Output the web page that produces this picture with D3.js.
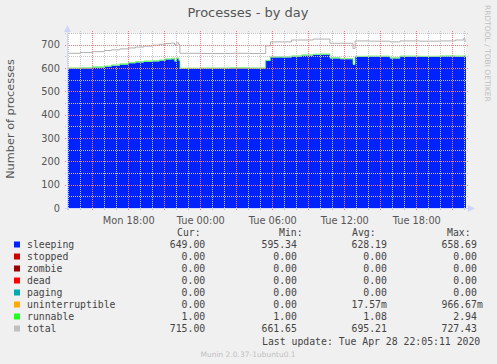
<!DOCTYPE html>
<html>
<head>
<meta charset="utf-8">
<script src="https://cdnjs.cloudflare.com/ajax/libs/d3/7.8.5/d3.min.js"></script>
<style>
	body { margin: 0; background: #f0f0f0; }
	svg text { font-family: "DejaVu Sans", sans-serif; fill: #555; }
	svg text.mono { font-family: "DejaVu Sans Mono", monospace; white-space: pre; fill: #444; }
</style>
</head>
<body>
<svg id="chart" width="497" height="364"></svg>
<script>
// hours since Mon 2020-04-27 00:00
var hrs      = [12.9, 14.0, 15.0, 16.0, 16.6, 17.3, 18.0, 18.6, 19.3, 20.0, 20.6, 21.1, 21.6, 21.85, 22.0, 22.2, 22.3, 24.0, 26.5, 28.1, 29.45, 29.85, 31.6, 32.45, 33.4, 34.0, 34.8, 35.65, 36.72, 36.9, 38.1, 39.8, 40.65, 42.3, 44.0, 45.25, 45.95, 46.05];
var sleeping = [597, 598, 601, 605, 610, 614, 620, 624, 626, 628, 631, 636, 638, 628, 640, 630, 596, 597, 598, 597, 630, 645, 648, 653, 656, 657, 641, 637, 613, 647, 648, 641, 648, 647, 649, 648, 650, 649];
var runnable = [1, 1, 2, 1, 1, 2, 1, 1, 2, 1, 1, 1, 2, 1, 1, 1, 1, 1, 1, 1, 1, 1, 2, 1, 1, 1, 1, 1, 1, 1, 1, 1, 1, 1, 1, 1, 1, 1];
var total    = [663, 666, 670, 675, 678, 682, 686, 690, 694, 698, 702, 705, 707, 700, 708, 700, 663, 662, 663, 662, 695, 712, 720, 720, 724, 724, 706, 706, 684, 716, 715, 712, 716, 715, 716, 720, 727, 715];

var seriesNames  = ["sleeping", "stopped", "zombie", "dead", "paging", "uninterruptible", "runnable", "total"];
var seriesColors = ["#0022ff", "#cc0000", "#990000", "#ff0000", "#00aaaa", "#ffaa00", "#22ff22", "#c0c0c0"];
var curVals = ["649.00", "  0.00", "  0.00", "  0.00", "  0.00", "  0.00", "  1.00", "715.00"];
var minVals = ["595.34", "  0.00", "  0.00", "  0.00", "  0.00", "  0.00", "  1.00", "661.65"];
var avgVals = ["628.19", "  0.00", "  0.00", "  0.00", "  0.00", "17.57m", "  1.08", "695.21"];
var maxVals = ["658.69", "  0.00", "  0.00", "  0.00", "  0.00", "966.67m", "  2.94", "727.43"];

var yTicks = [0, 100, 200, 300, 400, 500, 600, 700];

var base = new Date(2020, 3, 27, 0, 0, 0);
function toDate(h) { return new Date(base.getTime() + h * 3600e3); }

var svg = d3.select("#chart");
var plotL = 67, plotR = 466, plotT = 33, plotB = 208;

var x = d3.scaleTime().domain([toDate(12.89), toDate(46.14)]).range([plotL, plotR]);
var y = d3.scaleLinear().domain([0, 750]).range([plotB, plotT]);

// plot canvas
svg.append("rect").attr("x", plotL).attr("y", plotT).attr("width", plotR - plotL).attr("height", plotB - plotT).attr("fill", "#fff");

// stack: sleeping, stopped, zombie, dead, paging, uninterruptible, runnable
var rows = hrs.map(function(h, i) {
	return { t: toDate(h), sleeping: sleeping[i], stopped: 0, zombie: 0, dead: 0, paging: 0, uninterruptible: 0, runnable: runnable[i], total: total[i] };
});
// hold last sample to the right edge
var lastRow = Object.assign({}, rows[rows.length - 1]); lastRow.t = toDate(46.14); rows.push(lastRow);

var stack = d3.stack().keys(seriesNames.slice(0, 7));
var layers = stack(rows);

var area = d3.area().curve(d3.curveStepAfter)
	.x(function(d) { return x(d.data.t); })
	.y0(function(d) { return y(d[0]); })
	.y1(function(d) { return y(d[1]); });

svg.append("g").selectAll("path").data(layers).enter().append("path")
	.attr("d", area)
	.attr("fill", function(d, i) { return seriesColors[i]; });

// runnable top edge so it is visible
svg.append("path").datum(layers[6])
	.attr("d", d3.line().curve(d3.curveStepAfter).x(function(d) { return x(d.data.t); }).y(function(d) { return y(d[1]) - 0.5; }))
	.attr("fill", "none").attr("stroke", "#33ee33").attr("stroke-width", 0.7);

// total line
svg.append("path").datum(rows)
	.attr("d", d3.line().curve(d3.curveStepAfter).x(function(d) { return x(d.t); }).y(function(d) { return y(d.total); }))
	.attr("fill", "none").attr("stroke", "#b0b0b0").attr("stroke-width", 1);

// grid, drawn over the areas like rrdtool does
var gridG = svg.append("g").attr("fill", "none").attr("stroke-width", 1).attr("stroke-dasharray", "1 1");
var redGrid = "#f77a7a", greyGrid = "#c4c4c4";
d3.range(50, 751, 50).forEach(function(v) {
	var major = v % 100 === 0;
	var py = Math.round(y(v)) + 0.5;
	gridG.append("line").attr("x1", plotL - 2).attr("x2", plotR + 3).attr("y1", py).attr("y2", py)
		.attr("stroke", major ? redGrid : greyGrid);
});
x.ticks(d3.timeHour.every(1)).forEach(function(t) {
	var major = t.getHours() % 3 === 0;
	var px = Math.round(x(t)) + 0.5;
	gridG.append("line").attr("x1", px).attr("x2", px).attr("y1", plotT - 2).attr("y2", plotB + 3)
		.attr("stroke", major ? redGrid : greyGrid);
});

// axes
var axisCol = "#cfd6f8";
svg.append("line").attr("x1", plotL + 0.5).attr("x2", plotL + 0.5).attr("y1", 30).attr("y2", plotB + 2).attr("stroke", axisCol);
svg.append("line").attr("x1", plotL - 2).attr("x2", plotR + 4).attr("y1", plotB + 0.5).attr("y2", plotB + 0.5).attr("stroke", axisCol);
svg.append("path").attr("d", "M" + (plotL - 3) + ",32 L" + (plotL + 0.5) + ",25 L" + (plotL + 4) + ",32 Z").attr("fill", axisCol);
svg.append("path").attr("d", "M" + (plotR + 2) + "," + (plotB - 3) + " L" + (plotR + 9) + "," + (plotB + 0.5) + " L" + (plotR + 2) + "," + (plotB + 4) + " Z").attr("fill", axisCol);

var yAxis = d3.axisLeft(y).tickValues(yTicks).tickSize(0).tickPadding(7);
var gy = svg.append("g").attr("transform", "translate(" + plotL + ",0)").call(yAxis);
gy.select(".domain").remove();
gy.selectAll("text").attr("font-size", "9.8px").attr("font-family", "DejaVu Sans").attr("fill", "#555");

var xAxis = d3.axisBottom(x).ticks(d3.timeHour.every(6)).tickFormat(d3.timeFormat("%a %H:%M")).tickSize(0).tickPadding(9);
var gx = svg.append("g").attr("transform", "translate(0," + plotB + ")").call(xAxis);
gx.select(".domain").remove();
gx.selectAll("text").attr("font-size", "9.8px").attr("font-family", "DejaVu Sans").attr("fill", "#555");

// title & labels
svg.append("text").attr("x", 248).attr("y", 17).attr("text-anchor", "middle").attr("font-size", "13px").text("Processes - by day");
svg.append("text").attr("transform", "translate(14,119) rotate(-90)").attr("text-anchor", "middle").attr("font-size", "11.3px").text("Number of processes");
svg.append("text").attr("transform", "translate(485,5) rotate(90)").attr("text-anchor", "start").attr("font-size", "7.5px").style("fill", "#c0c0c0").text("RRDTOOL / TOBI OETIKER");

// legend
var lg = svg.append("g");
var headX = [177, 279, 352, 447];
["Cur:", "Min:", "Avg:", "Max:"].forEach(function(h, i) {
	lg.append("text").attr("class", "mono").attr("x", headX[i]).attr("y", 235.5).attr("font-size", "9.8px").text(h);
});
var colX = [169.8, 261.5, 351.5, 441.5];
seriesNames.forEach(function(n, i) {
	var yy = 244.5 + i * 12;
	lg.append("rect").attr("x", 14).attr("y", yy - 3).attr("width", 6).attr("height", 6).attr("fill", seriesColors[i]);
	lg.append("text").attr("class", "mono").attr("x", 27).attr("y", yy + 3.5).attr("font-size", "9.8px").text(n);
	[curVals, minVals, avgVals, maxVals].forEach(function(arr, j) {
		lg.append("text").attr("class", "mono").attr("x", colX[j]).attr("y", yy + 3.5).attr("font-size", "9.8px").text(arr[i]);
	});
});
lg.append("text").attr("class", "mono").attr("x", 262).attr("y", 344.5).attr("font-size", "9.8px").text("Last update: Tue Apr 28 22:05:11 2020");
svg.append("text").attr("x", 248).attr("y", 357).attr("text-anchor", "middle").attr("font-size", "7.5px").style("fill", "#c0c0c0").text("Munin 2.0.37-1ubuntu0.1");
</script>
</body>
</html>
